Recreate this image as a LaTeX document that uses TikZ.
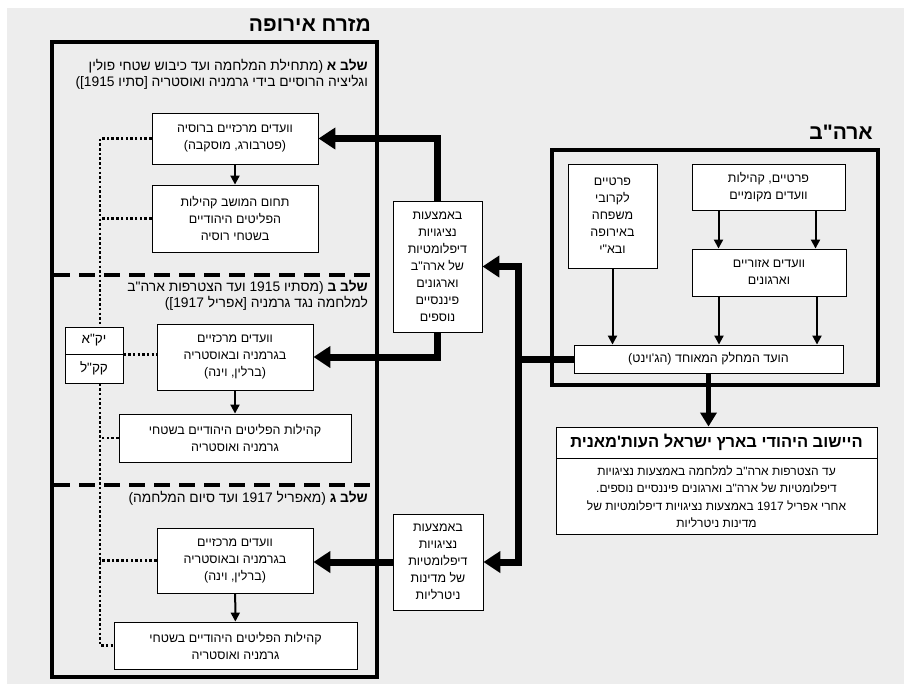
\documentclass[tikz,border=0pt]{standalone}
\usepackage{fontspec}
\setmainfont{Liberation Sans}
\newfontfamily\hebfont[Script=Hebrew]{Liberation Sans}
\TeXXeTstate=1
\usepackage{tikz}
\usetikzlibrary{
  arrows.meta,
  positioning,  % Function "of" (e.g. [right=of x])
  calc,         % Calculations $...$
}
\definecolor{pagegray}{RGB}{237,237,237}
\newcommand{\heb}[1]{{\hebfont\beginR #1\endR}}
\newcommand{\boxsize}{\fontsize{12.5}{17}\selectfont}
\newcommand{\titlesize}{\fontsize{21}{25}\selectfont}
\tikzset{
  >=Triangle,
  my box/.style={
    draw,
    fill=white,
    line width=0.9pt,
    align=center,
    inner sep=1mm,
    font=\boxsize
  },
  dims/.style 2 args={
    minimum width=#1,
    minimum height=#2
  },
  my frame/.style={
    draw,
    line width=4.5pt
  },
  my title/.style={
    anchor=east,
    inner sep=0mm,
    font=\titlesize\bfseries
  },
  stage text/.style={
    anchor=north east,
    align=right,
    inner sep=0mm,
    font=\fontsize{13.8}{16.5}\selectfont
  },
  stage line/.style={
    line width=4pt,
    dash pattern=on 16pt off 9pt
  },
  big line/.style={
    line width=7pt
  },
  big arrow/.style={
    big line,
    -{Triangle[length=17pt,width=21pt]}
  },
  thin arrow/.style={
    line width=2pt,
    -{Triangle[length=9pt,width=9pt]}
  },
  spine/.style={
    line width=2.5pt,
    dash pattern=on 2.5pt off 2.2pt
  }
}

\begin{document}
\begin{tikzpicture}[x=1pt,y=-1pt]
\useasboundingbox (0,0) rectangle (907,691);
\fill[pagegray] (7,8) rectangle (904,684);
% Eastern Europe frame and stages
\node[my title] (euTitle) at (371,25) {\heb{מזרח אירופה}};
\draw[my frame] (52,42) rectangle (377,677);
\draw[stage line] (54,275) -- (375,275);
\draw[stage line] (54,485) -- (375,485);
\node[stage text] (stageA) at (368,59)
  {\heb{\textbf{שלב א} (מתחילת המלחמה ועד כיבוש שטחי פולין}\\
   \heb{וגליציה הרוסיים בידי גרמניה ואוסטריה [סתיו 1915])}};
\node[stage text] (stageB) at (368,280)
  {\heb{\textbf{שלב ב} (מסתיו 1915 ועד הצטרפות ארה"ב}\\
   \heb{למלחמה נגד גרמניה [אפריל 1917])}};
\node[stage text] (stageC) at (368,491)
  {\heb{\textbf{שלב ג} (מאפריל 1917 ועד סיום המלחמה)}};
% Stage A
\node[my box,dims={166pt}{51pt}] (a1) at (235,138.5)
  {\heb{וועדים מרכזיים ברוסיה}\\\heb{(פטרבורג, מוסקבה)}};
\node[my box,dims={166pt}{67pt}] (a2) at (235,218.5)
  {\heb{תחום המושב קהילות}\\\heb{הפליטים היהודיים}\\\heb{בשטחי רוסיה}};
\draw[thin arrow] (a1) -- (a2);
% Stage B
\node[my box,dims={156pt}{66pt}] (b1) at (235,357)
  {\heb{וועדים מרכזיים}\\\heb{בגרמניה ובאוסטריה}\\\heb{(ברלין, וינה)}};
\node[my box,dims={232pt}{48pt}] (b2) at (235,438)
  {\heb{קהילות הפליטים היהודיים בשטחי}\\\heb{גרמניה ואוסטריה}};
\draw[thin arrow] (b1) -- (b2);
\node[my box,dims={58pt}{27pt},font=\fontsize{13.5}{16}\selectfont] (yka) at (94,340.5) {\heb{יק"א}};
\node[my box,dims={58pt}{29pt},font=\fontsize{13.5}{16}\selectfont] (kkl) at (94,368.5) {\heb{קק"ל}};
% Stage C
\node[my box,dims={156pt}{65pt}] (c1) at (235,560.5)
  {\heb{וועדים מרכזיים}\\\heb{בגרמניה ובאוסטריה}\\\heb{(ברלין, וינה)}};
\node[my box,dims={243pt}{47pt}] (c2) at (235.5,645.5)
  {\heb{קהילות הפליטים היהודיים בשטחי}\\\heb{גרמניה ואוסטריה}};
\draw[thin arrow] (c1) -- (c2);
% Dotted spine
\coordinate (sp) at (100,0);
\draw[spine] (a1.west) -| (yka.north -| sp);
\draw[spine] (kkl.south -| sp) |- (c2.west);
\draw[spine] (a2.west) -- (a2.west -| sp);
\draw[spine] (yka.south east) -- (yka.south east -| b1.west);
\draw[spine] (b2.west) -- (b2.west -| sp);
\draw[spine] (c1.west) -- (c1.west -| sp);
% Diplomatic channels
\node[my box,dims={89pt}{131pt}] (dip1) at (437.5,266.5)
  {\heb{באמצעות}\\\heb{נציגויות}\\\heb{דיפלומטיות}\\\heb{של ארה"ב}\\\heb{וארגונים}\\\heb{פיננסיים}\\\heb{נוספים}};
\node[my box,dims={90pt}{96pt}] (dip2) at (438,562)
  {\heb{באמצעות}\\\heb{נציגויות}\\\heb{דיפלומטיות}\\\heb{של מדינות}\\\heb{ניטרליות}};
\draw[big arrow] (dip1.north) |- (a1.east);
\draw[big arrow] (dip1.south) |- (b1.east);
\draw[big arrow] (dip2.west) -- (dip2.west -| c1.east);
% USA frame
\node[my title] (usTitle) at (873,132) {\heb{ארה"ב}};
\draw[my frame] (552,150) rectangle (878,385);
\node[my box,dims={89pt}{104pt}] (u1) at (612.5,216)
  {\heb{פרטיים}\\\heb{לקרובי}\\\heb{משפחה}\\\heb{באירופה}\\\heb{ובא"י}};
\node[my box,dims={153pt}{46pt}] (u2) at (768.5,187)
  {\heb{פרטיים, קהילות}\\\heb{וועדים מקומיים}};
\node[my box,dims={154pt}{47pt}] (u3) at (769,272.5)
  {\heb{וועדים אזוריים}\\\heb{וארגונים}};
\node[my box,dims={269pt}{28pt}] (joint) at (708.5,359)
  {\heb{הועד המחלק המאוחד (הג'וינט)}};
\draw[thin arrow] ([xshift=-50pt]u2.south) -- ([xshift=-50pt]u2.south |- u3.north);
\draw[thin arrow] ([xshift=47pt]u2.south) -- ([xshift=47pt]u2.south |- u3.north);
\draw[thin arrow] ([xshift=-50pt]u3.south) -- ([xshift=-50pt]u3.south |- joint.north);
\draw[thin arrow] ([xshift=48pt]u3.south) -- ([xshift=48pt]u3.south |- joint.north);
\draw[thin arrow] (u1.south) -- (u1.south |- joint.north);
% Joint to Europe
\coordinate (jn) at (518,359);
\draw[big line] (joint.west) -- (jn);
\draw[big arrow] (jn) |- (dip1.east);
\draw[big arrow] (jn) |- (dip2.east);
% Yishuv
\node[my box,dims={321pt}{31pt},font=\fontsize{16.5}{20}\selectfont\bfseries] (yishuv) at (716.5,442.5)
  {\heb{היישוב היהודי בארץ ישראל העות'מאנית}};
\node[my box,dims={321pt}{76pt},font=\fontsize{12}{17.5}\selectfont,anchor=north] (yishuvText) at (yishuv.south)
  {\heb{עד הצטרפות ארה"ב למלחמה באמצעות נציגויות}\\
   \heb{דיפלומטיות של ארה"ב וארגונים פיננסיים נוספים.}\\
   \heb{אחרי אפריל 1917 באמצעות נציגויות דיפלומטיות של}\\
   \heb{מדינות ניטרליות}};
\draw[big line,-{Triangle[length=14pt,width=16pt]},line width=5pt] (joint.south) -- (joint.south |- yishuv.north);
\end{tikzpicture}
\end{document}
